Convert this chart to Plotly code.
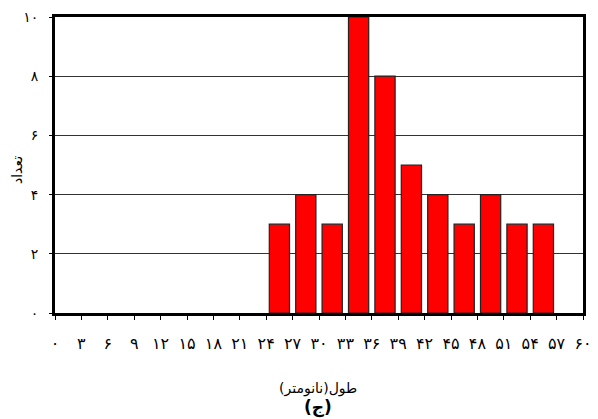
import plotly.graph_objects as go

# Data
bin_starts = [24, 27, 30, 33, 36, 39, 42, 45, 48, 51, 54]
counts = [3, 4, 3, 10, 8, 5, 4, 3, 4, 3, 3]
bin_width = 3

x_tick_vals = list(range(0, 61, 3))
x_tick_text = ["۰", "۳", "۶", "۹", "۱۲", "۱۵", "۱۸", "۲۱", "۲۴", "۲۷", "۳۰",
               "۳۳", "۳۶", "۳۹", "۴۲", "۴۵", "۴۸", "۵۱", "۵۴", "۵۷", "۶۰"]
y_tick_vals = [0, 2, 4, 6, 8, 10]
y_tick_text = ["۰", "۲", "۴", "۶", "۸", "۱۰"]

x_title = "طول(نانومتر)"
y_title = "تعداد"
caption = "(ج)"

centers = [s + bin_width / 2 for s in bin_starts]

OFF = 8  # page body margin
W, H = 590, 411
L, R, T, B = 47, 15, 9, 106
plot_h = H - T - B
plot_w = W - L - R

def py(screen):
    return (H - B - (screen - OFF)) / plot_h

def px(screen):
    return ((screen - OFF) - L) / plot_w

fig = go.Figure()
fig.add_trace(go.Bar(
    x=centers, y=counts, width=2.3,
    marker=dict(color="#ff0000", line=dict(color="#222222", width=1.2)),
    showlegend=False,
))

font_family = "DejaVu Sans, Noto Sans, sans-serif"

fig.update_layout(
    width=W, height=H,
    margin=dict(l=L, r=R, t=T, b=B),
    plot_bgcolor="white", paper_bgcolor="white",
    font=dict(family=font_family, color="black", size=15),
    xaxis=dict(
        range=[0, 60], tickmode="array", tickvals=x_tick_vals, ticktext=x_tick_text,
        showgrid=False, zeroline=False, showline=True, linecolor="black", linewidth=3,
        mirror=True, ticks="outside", ticklen=4, tickwidth=1, tickcolor="black",
        tickfont=dict(size=16), automargin=False, ticklabelstandoff=10,
        ticklabeloverflow="allow",
    ),
    yaxis=dict(
        range=[0, 10], tickmode="array", tickvals=y_tick_vals, ticktext=y_tick_text,
        showgrid=True, gridcolor="#333333", gridwidth=1.3, zeroline=False,
        showline=True, linecolor="black", linewidth=3, mirror=True,
        ticks="outside", ticklen=3, tickwidth=1, tickcolor="black",
        tickfont=dict(size=14), automargin=False, ticklabelstandoff=8,
        ticklabeloverflow="allow",
    ),
    annotations=[
        dict(text=x_title, x=px(318), y=py(388), xref="paper", yref="paper",
             xanchor="center", yanchor="middle", showarrow=False, font=dict(size=14)),
        dict(text="<b>" + caption + "</b>", x=px(318), y=py(407), xref="paper",
             yref="paper", xanchor="center", yanchor="middle", showarrow=False,
             font=dict(size=17)),
        dict(text=y_title, x=px(17), y=py(170), xref="paper", yref="paper",
             xanchor="center", yanchor="middle", showarrow=False, textangle=-90,
             font=dict(size=14)),
    ],
)

fig.write_html("out.html")
